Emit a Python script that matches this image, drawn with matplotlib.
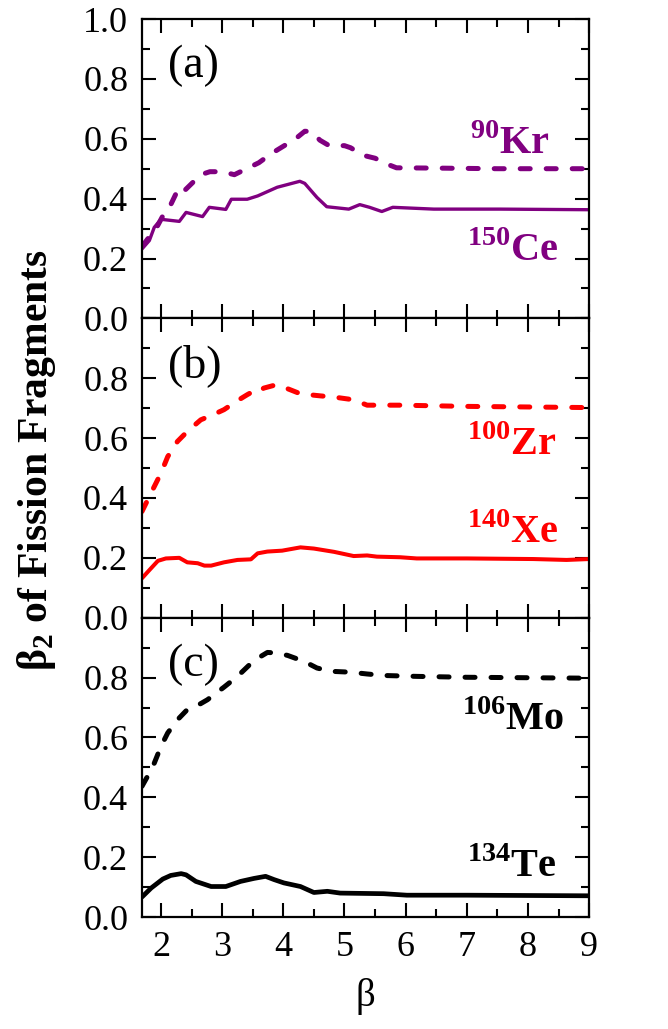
import matplotlib
matplotlib.use('Agg')
import matplotlib.pyplot as plt
from matplotlib.ticker import MultipleLocator, FixedLocator

plt.rcParams['font.family'] = ['Liberation Serif', 'DejaVu Serif']
plt.rcParams['mathtext.fontset'] = 'custom'
plt.rcParams['mathtext.rm'] = 'Liberation Serif'
plt.rcParams['mathtext.bf'] = 'Liberation Serif:bold'

# panel (a): 90Kr (dashed) and 150Ce (solid)
kr_x = [1.69, 1.8, 1.92, 2.05, 2.16, 2.3, 2.4, 2.5, 2.65, 2.8, 3.0, 3.2, 3.4, 3.6,
        3.8, 4.0, 4.2, 4.35, 4.45, 4.6, 4.75, 5.0, 5.1, 5.3, 5.5, 5.7, 5.85, 6.5, 7.5, 9.0]
kr_y = [0.24, 0.27, 0.30, 0.35, 0.38, 0.44, 0.43, 0.45, 0.48, 0.49, 0.49, 0.48, 0.50, 0.52,
        0.55, 0.575, 0.60, 0.625, 0.625, 0.595, 0.577, 0.577, 0.57, 0.545, 0.535, 0.515, 0.503,
        0.502, 0.50, 0.50]
ce_x = [1.69, 1.81, 1.89, 2.0, 2.30, 2.41, 2.68, 2.79, 3.06, 3.15, 3.41, 3.58, 3.90, 4.27,
        4.35, 4.55, 4.71, 5.07, 5.25, 5.41, 5.61, 5.79, 6.46, 7.54, 9.0]
ce_y = [0.232, 0.26, 0.304, 0.331, 0.324, 0.354, 0.34, 0.371, 0.364, 0.398, 0.398, 0.409,
        0.438, 0.458, 0.451, 0.404, 0.373, 0.365, 0.38, 0.371, 0.357, 0.371, 0.365, 0.365, 0.363]

# panel (b): 100Zr (dashed) and 140Xe (solid)
zr_x = [1.69, 1.81, 1.89, 2.0, 2.11, 2.27, 2.43, 2.65, 2.87, 3.03, 3.25, 3.41, 3.55, 3.6,
        3.68, 3.88, 4.07, 4.28, 4.61, 4.83, 5.15, 5.37, 5.91, 7.0, 9.0]
zr_y = [0.355, 0.405, 0.438, 0.483, 0.538, 0.589, 0.622, 0.661, 0.68, 0.695, 0.725, 0.745,
        0.761, 0.756, 0.767, 0.778, 0.765, 0.748, 0.741, 0.737, 0.728, 0.71, 0.71, 0.706, 0.702]
xe_x = [1.69, 1.81, 1.95, 2.08, 2.30, 2.43, 2.6, 2.71, 2.82, 3.03, 3.25, 3.47, 3.58, 3.74,
        3.98, 4.28, 4.5, 4.83, 5.15, 5.37, 5.53, 5.91, 6.18, 7.0, 8.09, 8.63, 9.0]
xe_y = [0.132, 0.159, 0.19, 0.198, 0.2, 0.185, 0.182, 0.174, 0.174, 0.185, 0.193, 0.195,
        0.215, 0.221, 0.224, 0.235, 0.231, 0.22, 0.206, 0.208, 0.204, 0.202, 0.198, 0.198,
        0.196, 0.193, 0.196]

# panel (c): 106Mo (dashed) and 134Te (solid)
mo_x = [1.69, 1.78, 1.89, 2.0, 2.11, 2.27, 2.43, 2.65, 2.76, 2.9, 3.03, 3.25, 3.52, 3.74,
        3.9, 4.07, 4.34, 4.55, 4.77, 5.1, 5.37, 5.64, 6.18, 7.0, 9.0]
mo_y = [0.437, 0.47, 0.514, 0.57, 0.615, 0.659, 0.693, 0.713, 0.726, 0.748, 0.768, 0.804,
        0.857, 0.884, 0.882, 0.874, 0.854, 0.832, 0.821, 0.818, 0.812, 0.807, 0.804, 0.801, 0.798]
te_x = [1.69, 1.84, 2.03, 2.16, 2.33, 2.41, 2.57, 2.82, 3.06, 3.30, 3.52, 3.71, 3.85, 4.01,
        4.28, 4.5, 4.72, 4.93, 5.64, 6.02, 7.0, 9.0]
te_y = [0.067, 0.097, 0.127, 0.139, 0.145, 0.141, 0.119, 0.102, 0.102, 0.119, 0.129, 0.136,
        0.125, 0.114, 0.102, 0.082, 0.086, 0.08, 0.078, 0.073, 0.073, 0.071]

panels = [
    ('(a)', '#800080', (kr_x, kr_y, '90', 'Kr', 7.05, 0.55), (ce_x, ce_y, '150', 'Ce', 7.0, 0.19), 2.4),
    ('(b)', '#ff0000', (zr_x, zr_y, '100', 'Zr', 7.0, 0.545), (xe_x, xe_y, '140', 'Xe', 7.0, 0.25), 2.9),
    ('(c)', '#000000', (mo_x, mo_y, '106', 'Mo', 6.92, 0.625), (te_x, te_y, '134', 'Te', 7.0, 0.135), 3.4),
]

fig, axes = plt.subplots(3, 1, figsize=(6.68, 10.29), dpi=100, sharex=True)
fig.subplots_adjust(left=0.2126, right=0.882, top=0.9815, bottom=0.1088, hspace=0)

for i, (ax, (tag, col, dashed, solid, solid_lw)) in enumerate(zip(axes, panels)):
    ax.plot(dashed[0], dashed[1], color=col, lw=3.6, dashes=(2, 3.2),
            dash_capstyle='round', solid_capstyle='round')
    ax.plot(solid[0], solid[1], color=col, lw=solid_lw, solid_capstyle='round')
    for d in (dashed, solid):
        ax.text(d[4], d[5], r'$^{\mathbf{' + d[2] + '}}$' + d[3], color=col,
                fontsize=29, fontweight='bold', ha='left', va='baseline')
    ax.text(0.058, 0.915, tag, transform=ax.transAxes, fontsize=33, ha='left', va='top')

    ax.set_xlim(1.69, 9)
    ax.set_ylim(0, 1.0)
    ax.xaxis.set_major_locator(MultipleLocator(1))
    ax.xaxis.set_minor_locator(MultipleLocator(0.5))
    if i == 0:
        ax.yaxis.set_major_locator(FixedLocator([0, 0.2, 0.4, 0.6, 0.8, 1.0]))
    else:
        ax.yaxis.set_major_locator(FixedLocator([0, 0.2, 0.4, 0.6, 0.8]))
    ax.yaxis.set_minor_locator(MultipleLocator(0.1))
    ax.yaxis.set_major_formatter(plt.FuncFormatter(lambda v, p: '%.1f' % v))
    ax.tick_params(which='both', direction='in', top=True, right=True, width=1.5,
                   labelsize=26)
    ax.tick_params(which='major', length=10, pad=10)
    ax.tick_params(which='minor', length=5.5)
    for s in ax.spines.values():
        s.set_linewidth(1.6)

axes[2].set_xlabel('β', fontsize=28, labelpad=10)
fig.text(0.054, 0.553, 'β$_\\mathbf{2}$ of Fission Fragments', rotation=90,
         fontsize=30, fontweight='bold', ha='center', va='center')

fig.savefig('out.png', dpi=100)
